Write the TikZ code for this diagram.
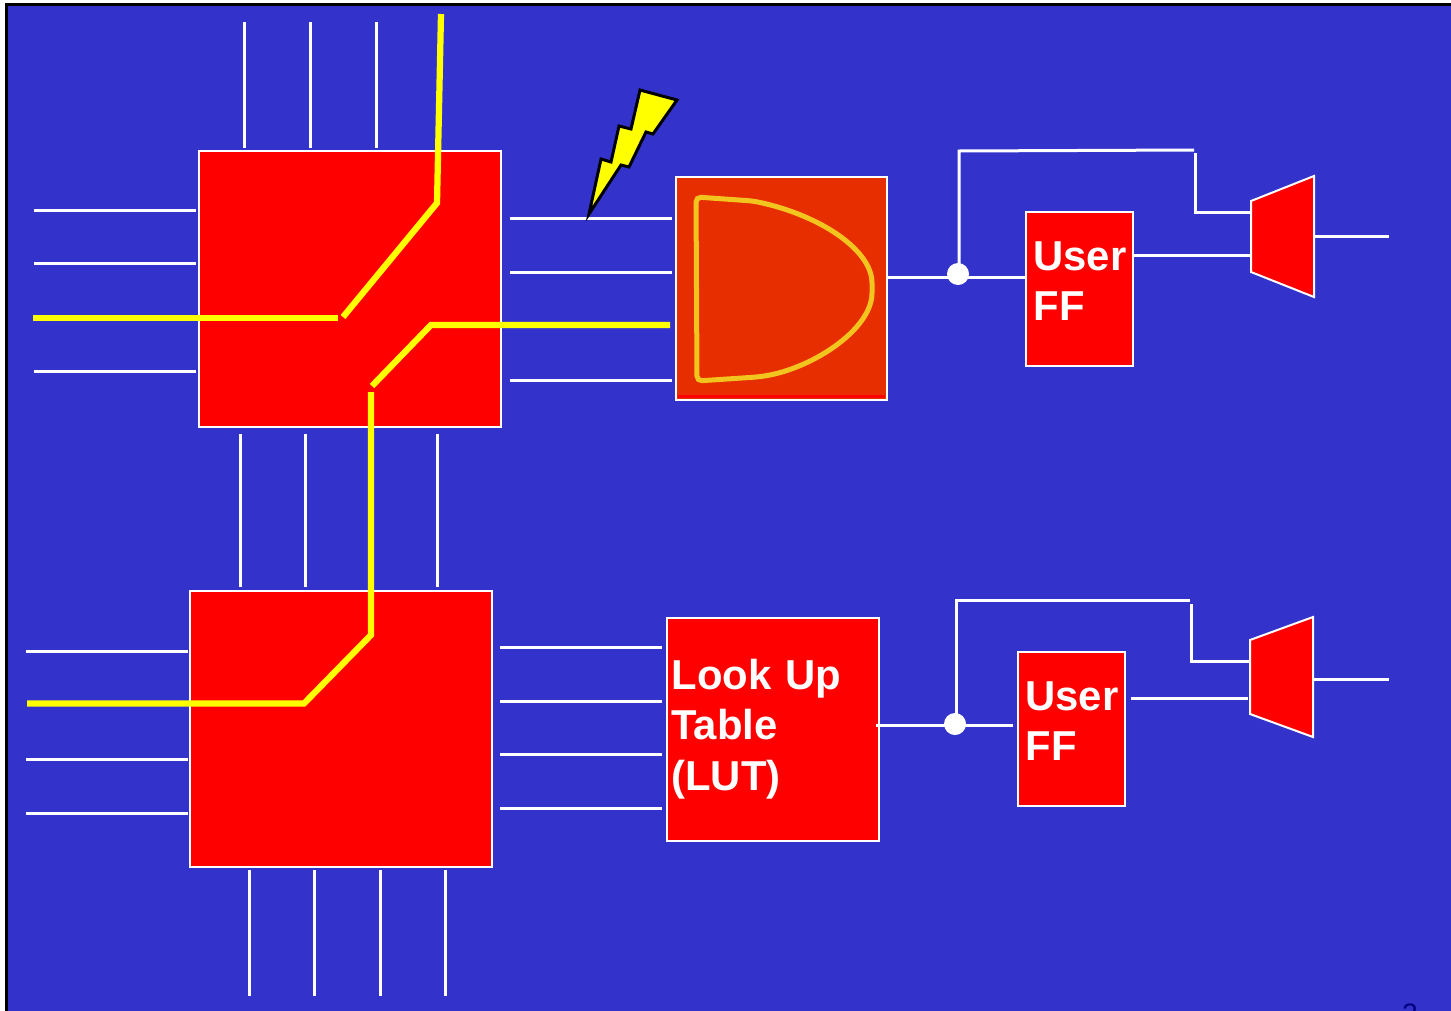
\documentclass[tikz,border=0pt]{standalone}
\usepackage{fontspec}
\setmainfont{Liberation Sans}
\usetikzlibrary{positioning}
\definecolor{slideblue}{HTML}{3333CC}
\definecolor{boxred}{HTML}{FF0000}
\definecolor{gatered}{HTML}{E62E00}
\definecolor{gatetrace}{HTML}{F2C41E}
\definecolor{hotyellow}{HTML}{FFFF00}
\definecolor{pagenavy}{HTML}{000080}
\tikzset{redbox/.style={draw=white, fill=boxred, line width=0.4mm, outer sep=0pt, inner sep=0pt,
  text=white, align=left, font=\fontsize{23.8}{28.9}\selectfont\bfseries},
  switchbox/.style={redbox, minimum width=60.4mm, minimum height=55.2mm},
  lutbox/.style={redbox, minimum width=42.4mm, minimum height=44.6mm, text width=41.4mm},
  ffbox/.style={redbox, minimum width=21.4mm, minimum height=30.8mm, text width=19.8mm},
  muxbox/.style={draw=white, fill=boxred, line width=0.4mm, line join=miter},
  wire/.style={draw=white, line width=0.6mm},
  hotwire/.style={draw=hotyellow, line width=1.25mm},
  joindot/.style={circle, fill=white, inner sep=0pt, minimum size=4.4mm}}

\begin{document}
\begin{tikzpicture}[x=0.2mm, y=-0.2mm]
    \useasboundingbox (0,0) rectangle (1451,1010);
    \fill[white] (0,0) rectangle (1451,1010);
    \draw[fill=slideblue, draw=black, line width=0.6mm] (6,4) rectangle (1470,1030);
    \node[anchor=north, inner sep=0pt, text=pagenavy, font=\fontsize{16}{16}\selectfont] (pagenum) at (1410,1003) {2};
    % boxes
    \node[switchbox] (swa) at (349.5,289) {};
    \node[switchbox, below=32.8mm of swa, xshift=-1.8mm] (swb) {};
    \node[redbox, fill=gatered, minimum width=42.2mm, minimum height=44.6mm, right=35mm of swa, yshift=0.2mm] (gate) {};
    \node[lutbox, right=35mm of swb] (lut) {\hspace*{0.5mm}Look Up\\\hspace*{0.5mm}Table\\\hspace*{0.5mm}(LUT)\rule[-2pt]{0pt}{0pt}};
    \node[ffbox, right=27.8mm of gate, yshift=-0.2mm] (ffa) {\hspace*{0.8mm}User\\\hspace*{0.8mm}FF\rule[-9pt]{0pt}{0pt}};
    \node[ffbox, right=27.8mm of lut] (ffb) {\hspace*{0.8mm}User\\\hspace*{0.8mm}FF\rule[-9pt]{0pt}{0pt}};
    \fill[boxred] (678,395) rectangle (885,398);
    \draw[gatetrace, line width=1mm, rounded corners=1mm] (696,197) -- (753,201)
      .. controls (820,215) and (872,250) .. (872,288)
      .. controls (872,330) and (810,370) .. (757,377) -- (697,381) -- cycle;
    \draw[muxbox] (1251,201) -- (1314,176) -- (1314,297) -- (1251,272) -- cycle;
    \draw[muxbox] (1250,640) -- (1313,617) -- (1313,737) -- (1250,714) -- cycle;
    % wires round the switch boxes
    \foreach \x in {244,310,376} {
      \coordinate (p) at (\x,22);
      \coordinate (q) at (\x,148);
      \draw[wire] (p) -- (q);
    }
    \foreach \y in {210,263,371} {
      \coordinate (p) at (34,\y);
      \coordinate (q) at (196,\y);
      \draw[wire] (p) -- (q);
    }
    \foreach \y in {218,272,380} {
      \coordinate (p) at (510,\y);
      \coordinate (q) at (672,\y);
      \draw[wire] (p) -- (q);
    }
    \foreach \x in {240,305,437} {
      \coordinate (p) at (\x,434);
      \coordinate (q) at (\x,587);
      \draw[wire] (p) -- (q);
    }
    \foreach \y in {651,759,813} {
      \coordinate (p) at (26,\y);
      \coordinate (q) at (188,\y);
      \draw[wire] (p) -- (q);
    }
    \foreach \y in {647,701,754,808} {
      \coordinate (p) at (500,\y);
      \coordinate (q) at (662,\y);
      \draw[wire] (p) -- (q);
    }
    \foreach \x in {249,314,380,445} {
      \coordinate (p) at (\x,870);
      \coordinate (q) at (\x,996);
      \draw[wire] (p) -- (q);
    }
    % active route
    \coordinate (ha) at (441,14);
    \coordinate (hb) at (437,203);
    \coordinate (hc) at (343,317);
    \coordinate (hd) at (338,318);
    \coordinate (he) at (33,318);
    \coordinate (hf) at (670,325);
    \coordinate (hg) at (431,325);
    \coordinate (hh) at (372,386);
    \coordinate (hi) at (371,392);
    \coordinate (hj) at (371,635);
    \coordinate (hk) at (304,703.5);
    \coordinate (hl) at (27,703.5);
    \draw[hotwire] (ha) -- (hb) -- (hc);
    \draw[hotwire] (hd) -- (he);
    \draw[hotwire] (hf) -- (hg) -- (hh);
    \draw[hotwire] (hi) -- (hj) -- (hk) -- (hl);
    % strike
    \draw[fill=hotyellow, draw=black, line width=0.6mm, line join=miter] (589,214) -- (601,159) -- (611,162)
      -- (619,126) -- (631,129) -- (640,90) -- (677,100) -- (653,134) -- (646,132)
      -- (629,167) -- (621,165) -- cycle;
    % outputs, top row
    \node[joindot] (dota) at (958,274) {};
    \coordinate (gout) at (888,277);
    \coordinate (ffain) at (1026,277);
    \coordinate (fba) at (959,274);
    \coordinate (fbb) at (959,151);
    \coordinate (fbc) at (1194,150);
    \coordinate (fbd) at (1195,153);
    \coordinate (fbe) at (1195,212);
    \coordinate (fbf) at (1251,212);
    \coordinate (ffaout) at (1134,255);
    \coordinate (muxain) at (1250,255);
    \coordinate (muxaout) at (1314,236);
    \coordinate (enda) at (1389,236);
    \draw[wire] (gout) -- (ffain);
    \draw[wire] (fba) -- (fbb) -- (fbc);
    \draw[wire] (fbd) -- (fbe) -- (fbf);
    \draw[wire] (ffaout) -- (muxain);
    \draw[wire] (muxaout) -- (enda);
    % outputs, bottom row
    \node[joindot] (dotb) at (955,724) {};
    \coordinate (lout) at (876,725);
    \coordinate (ffbin) at (1013,725);
    \coordinate (fga) at (956,724);
    \coordinate (fgb) at (956,600);
    \coordinate (fgc) at (1190,600);
    \coordinate (fgd) at (1191,604);
    \coordinate (fge) at (1191,661);
    \coordinate (fgf) at (1249,661);
    \coordinate (ffbout) at (1131,698);
    \coordinate (muxbin) at (1248,698);
    \coordinate (muxbout) at (1313,679);
    \coordinate (endb) at (1389,679);
    \draw[wire] (lout) -- (ffbin);
    \draw[wire] (fga) -- (fgb) -- (fgc);
    \draw[wire] (fgd) -- (fge) -- (fgf);
    \draw[wire] (ffbout) -- (muxbin);
    \draw[wire] (muxbout) -- (endb);
\end{tikzpicture}
\end{document}
